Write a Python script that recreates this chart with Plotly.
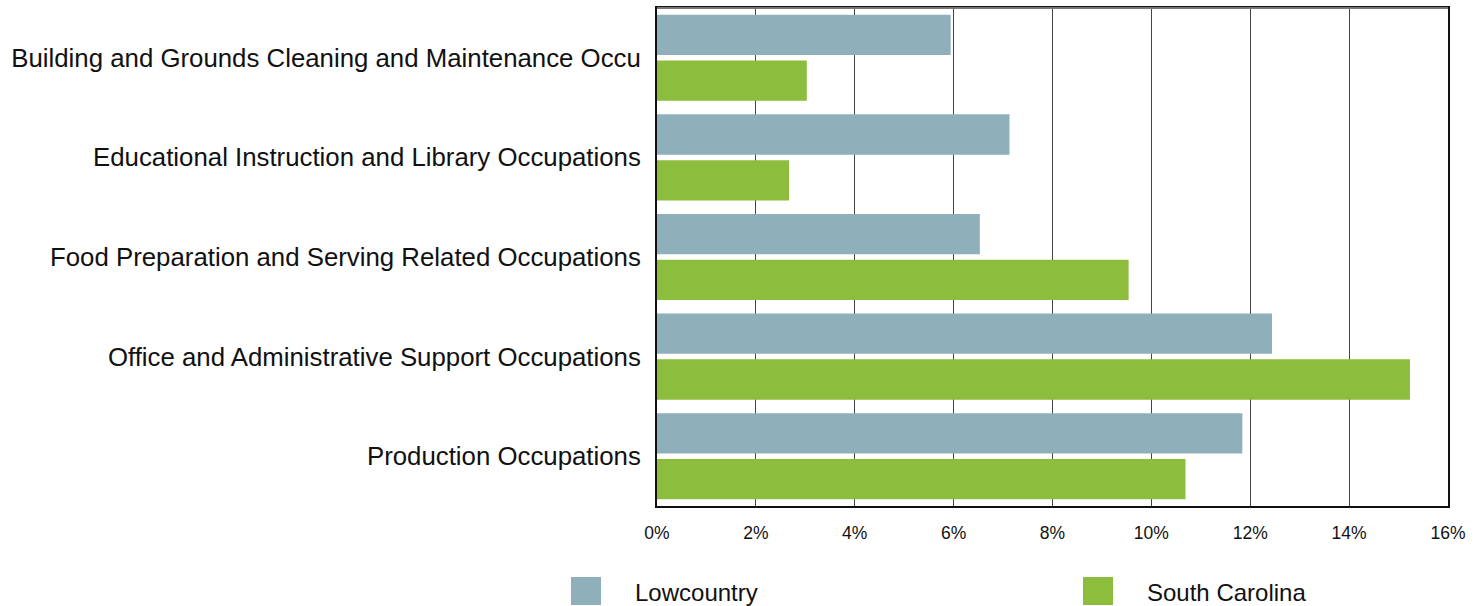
import plotly.graph_objects as go

categories = [
    "Building and Grounds Cleaning and Maintenance Occu",
    "Educational Instruction and Library Occupations",
    "Food Preparation and Serving Related Occupations",
    "Office and Administrative Support Occupations",
    "Production Occupations",
]
lowcountry = [5.94, 7.13, 6.53, 12.44, 11.84]
south_carolina = [3.03, 2.67, 9.54, 15.23, 10.69]
tick_vals = [0, 2, 4, 6, 8, 10, 12, 14, 16]
tick_text = ["0%", "2%", "4%", "6%", "8%", "10%", "12%", "14%", "16%"]

C_LOW = "#8FAFBA"
C_SC = "#8DBD3C"

fig = go.Figure()
fig.add_trace(go.Bar(y=categories, x=lowcountry, orientation="h", name="Lowcountry",
                     marker=dict(color=C_LOW, line=dict(width=0)), showlegend=False))
fig.add_trace(go.Bar(y=categories, x=south_carolina, orientation="h", name="South Carolina",
                     marker=dict(color=C_SC, line=dict(width=0)), showlegend=False))

W, H = 1481, 606
ml, mr, mt, mb = 657, 33, 8, 100
fig.update_layout(
    width=W, height=H,
    margin=dict(l=ml, r=mr, t=mt, b=mb, pad=0),
    plot_bgcolor="white", paper_bgcolor="white",
    barmode="group", bargap=0.08, bargroupgap=0.12,
    font=dict(family="Liberation Sans, Arial, sans-serif", color="#111"),
    xaxis=dict(range=[0, 16], tickvals=tick_vals, ticktext=tick_text,
               showgrid=True, gridcolor="#444", gridwidth=1,
               showline=True, linecolor="#111", linewidth=2, mirror=True,
               ticks="", tickfont=dict(size=17.5), zeroline=False,
               ticklabelstandoff=10, automargin=False),
    yaxis=dict(autorange="reversed", showgrid=False, showline=True, linecolor="#111",
               linewidth=2, mirror=True, ticks="", tickfont=dict(size=25.8),
               ticklabelstandoff=9, automargin=False),
)

# grey top border as in the reference
fig.add_shape(type="line", xref="paper", yref="paper", x0=0, x1=1, y0=1, y1=1,
              line=dict(color="#777", width=2))

# Legend drawn with paper-referenced shapes and text
pw = W - ml - mr
ph = H - mt - mb
legend_items = [("Lowcountry", C_LOW, 571), ("South Carolina", C_SC, 1083)]
for name, col, x0 in legend_items:
    fig.add_shape(type="rect", xref="paper", yref="paper",
                  x0=(x0 - ml) / pw, x1=(x0 + 30 - ml) / pw,
                  y0=(H - mb - 605) / ph, y1=(H - mb - 577) / ph,
                  fillcolor=col, line=dict(width=0))
    fig.add_annotation(xref="paper", yref="paper",
                       x=(x0 + 62 - ml) / pw, y=(H - mb - 592) / ph,
                       text=name, showarrow=False, xanchor="left", yanchor="middle",
                       font=dict(size=24, color="#111"))

fig.write_html("out.html", config={"displayModeBar": False},
               post_script="document.body.style.margin='0';")
